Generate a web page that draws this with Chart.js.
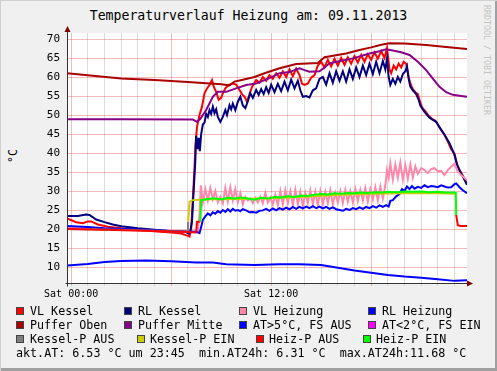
<!DOCTYPE html>
<html>
<head>
<meta charset="utf-8">
<script src="https://cdn.jsdelivr.net/npm/chart.js@4.4.0/dist/chart.umd.min.js"></script>
<style>
  html, body { margin: 0; padding: 0; background: #f0f0f0; }
  #frame {
    position: relative; width: 497px; height: 371px; overflow: hidden;
    background: #f0f0f0;
    box-shadow: inset 1px 1px 0 #d0d0d0, inset -2px -3px 0 #a0a0a0;
    font-family: 'DejaVu Sans Mono', monospace; color: #000;
  }
  canvas { position: absolute; left: 0; top: 0; }
  #title { position: absolute; left: 0; top: 8px; width: 497px; text-align: center; font-size: 13.2px; line-height: 16px; }
  #unit { position: absolute; left: 13px; top: 156px; font-size: 11.5px; transform: translate(-50%, -50%) rotate(-90deg); }
  #mark { position: absolute; left: 482px; top: 5px; writing-mode: vertical-rl; font-size: 8.3px; color: #c4c4c4; }
  .t { position: absolute; font-size: 11.7px; line-height: 14px; white-space: pre; }
  .b { position: absolute; width: 8px; height: 8px; box-sizing: border-box; border: 1px solid #444; }
</style>
</head>
<body>
<div id="frame">
  <div id="title">Temperaturverlauf Heizung am: 09.11.2013</div>
  <div id="unit">°C</div>
  <div id="mark">RRDTOOL / TOBI OETIKER</div>
  <canvas id="chart" width="497" height="371"></canvas>

  <div class="b" style="left:16px;top:307px;background:#ff0000"></div><div class="t" style="left:30px;top:304px">VL Kessel</div>
  <div class="b" style="left:124px;top:307px;background:#000080"></div><div class="t" style="left:138px;top:304px">RL Kessel</div>
  <div class="b" style="left:239px;top:307px;background:#ff88aa"></div><div class="t" style="left:253px;top:304px">VL Heizung</div>
  <div class="b" style="left:368px;top:307px;background:#0000ff"></div><div class="t" style="left:382px;top:304px">RL Heizung</div>

  <div class="b" style="left:16px;top:321px;background:#aa0000"></div><div class="t" style="left:30px;top:318px">Puffer Oben</div>
  <div class="b" style="left:124px;top:321px;background:#880088"></div><div class="t" style="left:138px;top:318px">Puffer Mitte</div>
  <div class="b" style="left:239px;top:321px;background:#0000ff"></div><div class="t" style="left:253px;top:318px">AT&gt;5°C, FS AUS</div>
  <div class="b" style="left:368px;top:321px;background:#ff00ff"></div><div class="t" style="left:382px;top:318px">AT&lt;2°C, FS EIN</div>

  <div class="b" style="left:16px;top:335px;background:#808080"></div><div class="t" style="left:30px;top:332px">Kessel-P AUS</div>
  <div class="b" style="left:137px;top:335px;background:#cccc00"></div><div class="t" style="left:150px;top:332px">Kessel-P EIN</div>
  <div class="b" style="left:256px;top:335px;background:#ff0000"></div><div class="t" style="left:269px;top:332px">Heiz-P AUS</div>
  <div class="b" style="left:363px;top:335px;background:#00ff00"></div><div class="t" style="left:376px;top:332px">Heiz-P EIN</div>

  <div class="t" style="left:16px;top:346px">akt.AT: 6.53 °C um 23:45  min.AT24h: 6.31 °C  max.AT24h:11.68 °C</div>
</div>

<script>
// Zeitachse in Stunden ab Mitternacht (Sat 00:00), Werte in °C
const gridHours = [0,1,2,3,4,5,6,7,8,9,10,11,12,13,14,15,16,17,18,19,20,21,22,23];
const labelHours = [0, 12];
const xTickLabels = ['Sat 00:00', 'Sat 12:00'];
const yTicks = [10,15,20,25,30,35,40,45,50,55,60,65,70];

const vlKessel = [[-0.25,22.8],[0.3,21.8],[0.7,21.5],[1.0,22.0],[1.2,22.0],[1.6,21.2],[2.2,20.6],[3.0,20.2],[4.0,19.8],[5.0,19.4],[6.0,19.1],[6.6,18.8],[7.0,18.2],[7.1,18.0],[7.2,20.0],[7.3,28.0],[7.4,36.0],[7.45,41.7],[7.55,46.9],[7.7,50.0],[7.85,52.2],[8.0,55.7],[8.15,57.0],[8.3,57.9],[8.45,59.2],[8.55,57.5],[8.7,56.1],[8.85,54.0],[9.0,54.5],[9.1,55.7],[9.25,57.0],[9.45,57.9],[9.7,58.3],[9.9,58.0],[10.05,57.0],[10.25,55.5],[10.4,54.8],[10.55,53.5],[10.7,55.5],[10.85,57.4],[11.1,59.2],[11.3,58.5],[11.5,60.0],[11.7,59.0],[11.9,60.5],[12.1,59.5],[12.3,61.0],[12.5,59.8],[12.7,61.5],[12.9,60.0],[13.1,62.0],[13.3,60.2],[13.5,62.2],[13.7,60.5],[13.85,58.2],[14.0,57.9],[14.2,58.3],[14.4,59.8],[14.6,60.5],[14.8,63.0],[15.0,64.0],[15.2,62.5],[15.4,64.5],[15.6,62.8],[15.8,64.8],[16.0,63.0],[16.2,65.0],[16.4,63.2],[16.6,65.2],[16.8,63.5],[17.0,65.5],[17.2,63.8],[17.4,65.8],[17.6,64.0],[17.8,66.0],[18.0,64.5],[18.2,66.5],[18.4,64.8],[18.6,66.8],[18.8,65.0],[18.95,67.6],[19.1,62.0],[19.2,61.0],[19.35,63.0],[19.5,62.0],[19.65,63.5],[19.8,62.5],[19.95,64.0],[20.1,63.5],[20.25,60.0],[20.35,58.3],[20.5,56.8],[20.65,56.0],[20.8,55.5],[20.9,54.0],[21.05,52.0],[21.25,51.0],[21.45,49.8],[21.65,49.0],[21.85,48.5],[22.0,47.5],[22.2,46.0],[22.4,44.8],[22.6,43.0],[22.8,41.0],[23.0,39.8],[23.15,37.0],[23.3,35.5],[23.5,34.0],[23.75,32.0]];

const rlKessel = [[-0.25,23.4],[0.4,23.4],[0.9,23.8],[1.1,23.7],[1.5,22.5],[2.0,21.8],[2.5,21.2],[3.0,20.7],[4.0,20.2],[5.0,19.8],[6.0,19.4],[6.9,19.2],[7.05,18.8],[7.15,19.5],[7.25,22.0],[7.35,30.0],[7.45,38.0],[7.5,44.5],[7.6,41.0],[7.65,44.0],[7.72,40.5],[7.8,45.0],[7.9,47.5],[8.0,48.0],[8.1,50.3],[8.2,49.5],[8.3,51.3],[8.4,50.3],[8.5,52.2],[8.6,50.5],[8.7,51.5],[8.8,49.5],[8.95,48.2],[9.1,49.5],[9.25,51.3],[9.35,50.0],[9.5,52.6],[9.6,51.5],[9.7,53.0],[9.85,51.3],[10.0,53.5],[10.15,54.8],[10.3,52.5],[10.45,51.8],[10.55,53.0],[10.75,55.7],[10.9,54.5],[11.1,56.6],[11.25,55.3],[11.4,56.8],[11.55,55.5],[11.7,57.3],[11.85,55.8],[12.0,58.0],[12.2,56.0],[12.4,58.2],[12.6,56.3],[12.8,58.8],[13.0,56.5],[13.2,59.3],[13.4,57.0],[13.6,59.0],[13.75,56.5],[13.9,54.8],[14.1,55.0],[14.3,54.6],[14.5,56.5],[14.7,57.0],[14.9,59.5],[15.1,60.0],[15.3,58.0],[15.5,61.0],[15.7,58.5],[15.9,61.5],[16.1,59.0],[16.3,61.5],[16.5,58.8],[16.7,62.0],[16.9,59.5],[17.1,62.5],[17.3,60.0],[17.5,63.0],[17.7,60.5],[17.9,63.5],[18.1,60.8],[18.3,64.0],[18.5,61.0],[18.7,64.2],[18.85,62.0],[18.95,64.9],[19.05,60.0],[19.15,57.9],[19.3,59.5],[19.45,58.2],[19.6,60.0],[19.75,58.8],[19.9,60.8],[20.05,61.5],[20.15,62.8],[20.25,59.5],[20.35,57.5],[20.5,56.5],[20.7,55.5],[20.85,54.0],[20.95,52.5],[21.2,50.8],[21.5,49.3],[21.7,48.7],[21.9,48.2],[22.1,46.8],[22.4,44.8],[22.7,42.6],[23.0,39.5],[23.15,37.0],[23.3,35.5],[23.5,33.8],[23.75,31.6]];

const vlHeizung = [[-0.25,20.3],[3.0,19.9],[7.0,19.3],[7.6,19.2],[7.7,24.0],[7.78,31.5],[7.9,27.0],[8.05,30.5],[8.2,27.5],[8.35,30.8],[8.5,27.8],[8.65,30.0],[8.8,27.0],[8.95,28.5],[9.1,26.8],[9.25,30.8],[9.4,27.2],[9.55,31.0],[9.7,27.5],[9.85,30.5],[10.0,27.0],[10.15,29.5],[10.3,26.5],[10.45,28.5],[10.6,27.5],[10.75,28.0],[10.9,26.8],[11.05,28.2],[11.2,27.0],[11.35,28.5],[11.5,26.8],[11.65,29.5],[11.8,27.0],[11.95,28.3],[12.1,26.5],[12.25,29.0],[12.4,26.3],[12.55,30.0],[12.7,26.5],[12.85,30.2],[13.0,26.8],[13.15,30.0],[13.3,26.2],[13.45,30.3],[13.6,26.5],[13.75,29.8],[13.9,26.0],[14.05,29.5],[14.2,26.8],[14.35,30.2],[14.5,26.5],[14.65,29.8],[14.8,26.3],[14.95,30.0],[15.1,26.5],[15.25,29.8],[15.4,26.8],[15.55,30.2],[15.7,26.5],[15.85,29.5],[16.0,27.0],[16.15,30.0],[16.3,26.8],[16.45,30.3],[16.6,27.2],[16.75,30.0],[16.9,27.0],[17.05,30.5],[17.2,27.3],[17.35,30.3],[17.5,27.5],[17.65,30.8],[17.8,27.2],[17.95,30.5],[18.1,27.8],[18.25,31.0],[18.4,27.5],[18.55,31.2],[18.7,28.0],[18.85,31.5],[18.95,35.5],[19.05,33.5],[19.15,37.3],[19.3,33.0],[19.45,37.0],[19.6,33.5],[19.75,37.5],[19.9,33.0],[20.05,36.8],[20.2,33.2],[20.35,37.0],[20.5,33.5],[20.65,36.5],[20.8,34.5],[21.0,36.0],[21.2,35.5],[21.4,34.7],[21.6,35.8],[21.8,36.0],[22.0,35.2],[22.2,35.3],[22.4,34.2],[22.6,35.5],[22.8,36.4],[23.0,37.2],[23.2,35.0],[23.45,34.0],[23.75,32.8]];

const rlHeizung = [[-0.25,20.8],[1.0,20.5],[2.0,20.2],[4.0,19.9],[6.0,19.5],[7.5,19.3],[7.7,18.9],[7.8,20.5],[7.9,22.4],[8.05,23.3],[8.2,24.1],[8.35,23.6],[8.5,24.4],[8.65,24.0],[8.8,24.7],[8.95,24.3],[9.1,25.0],[9.25,24.5],[9.4,25.2],[9.55,24.6],[9.7,25.3],[9.85,24.8],[10.0,25.0],[10.15,24.7],[10.3,25.2],[10.5,24.9],[10.7,24.4],[10.9,24.5],[11.1,24.3],[11.3,24.8],[11.5,24.9],[11.7,25.3],[11.9,24.8],[12.1,25.4],[12.3,24.9],[12.5,25.5],[12.7,25.1],[12.9,25.6],[13.1,25.2],[13.3,25.8],[13.5,25.3],[13.7,25.8],[13.9,25.4],[14.1,25.9],[14.3,25.5],[14.5,26.0],[14.7,25.5],[14.9,25.9],[15.1,25.4],[15.3,25.8],[15.5,25.3],[15.7,25.7],[15.9,25.2],[16.1,25.0],[16.3,24.8],[16.5,25.3],[16.7,25.0],[16.9,25.5],[17.1,25.2],[17.3,25.7],[17.5,25.3],[17.7,25.8],[17.9,25.5],[18.1,26.0],[18.3,25.6],[18.5,26.2],[18.7,25.8],[18.9,26.3],[19.05,25.9],[19.15,27.4],[19.3,27.6],[19.5,28.6],[19.7,29.2],[19.85,30.5],[20.0,30.0],[20.15,31.2],[20.3,30.5],[20.45,31.3],[20.6,30.6],[20.8,31.1],[21.0,30.8],[21.2,31.5],[21.4,31.0],[21.6,31.3],[21.8,31.2],[22.0,31.0],[22.2,31.5],[22.4,31.2],[22.6,30.9],[22.8,31.0],[23.0,31.8],[23.1,32.0],[23.3,31.0],[23.5,30.2],[23.75,29.4]];

const pufferOben = [[-0.25,61.0],[3.0,59.6],[5.0,59.2],[7.0,58.7],[9.0,58.1],[9.5,57.8],[9.8,58.8],[10.3,59.3],[11.0,60.0],[11.6,61.0],[12.5,62.3],[13.5,63.4],[14.8,63.7],[15.2,65.2],[16.5,66.2],[17.3,67.1],[18.0,67.8],[18.6,68.5],[19.1,68.9],[20.0,68.8],[21.3,68.4],[22.5,67.9],[23.75,67.4]];

const pufferMitte = [[-0.25,48.9],[3.0,48.9],[7.3,48.8],[7.55,48.2],[7.75,49.0],[8.1,51.3],[8.5,54.8],[8.8,56.1],[9.3,56.1],[9.9,57.0],[10.5,57.9],[11.1,58.3],[11.9,59.7],[12.5,61.0],[13.1,61.3],[13.7,62.3],[14.0,61.8],[14.3,61.4],[14.9,61.5],[15.2,62.5],[15.5,63.6],[16.2,64.3],[16.9,64.9],[17.9,66.2],[18.5,66.8],[18.9,67.3],[19.3,67.0],[19.8,66.5],[20.3,65.8],[20.8,64.0],[21.3,61.8],[21.7,59.6],[22.1,57.4],[22.5,56.0],[22.9,55.3],[23.4,55.0],[23.75,54.8]];

const atWarm = [[-0.25,10.4],[1.0,10.8],[2.0,11.3],[3.0,11.6],[4.5,11.7],[6.0,11.5],[7.5,11.2],[8.5,11.2],[9.3,10.7],[11.0,10.5],[12.5,10.7],[13.7,10.7],[15.0,10.5],[16.0,9.8],[17.0,9.1],[18.0,8.5],[19.0,7.9],[20.0,7.5],[21.0,7.2],[22.0,6.8],[23.0,6.35],[23.75,6.53]];
const atCold = [];

const kesselAus = [[-0.25,20.0],[3.0,19.8],[6.9,19.3],[7.0,19.3],[7.02,21.9]];
const kesselEin = [[7.02,21.9],[7.1,27.2],[7.3,27.6],[7.75,27.7],[8.5,27.8],[10.0,27.9],[12.0,28.1],[14.0,28.5],[16.0,29.0],[18.0,29.3],[20.0,29.4],[22.0,29.4],[23.05,29.3]];
const heizAus = [[-0.25,20.0],[2.0,19.8],[5.0,19.5],[7.0,19.2],[7.5,19.1],[7.55,21.9],[7.75,21.9],[7.8,null],[23.1,23.7],[23.2,21.0],[23.35,20.8],[23.75,20.8]];
const heizEin = [[7.75,21.9],[7.8,27.6],[8.2,27.9],[8.6,28.1],[9.0,27.8],[9.4,28.2],[9.8,28.0],[10.2,28.3],[10.6,28.0],[11.0,27.7],[11.4,28.2],[11.8,28.0],[12.2,28.4],[12.6,28.3],[13.0,28.6],[13.4,28.4],[13.8,28.8],[14.2,28.7],[14.6,29.0],[15.0,29.2],[15.4,29.1],[15.8,29.4],[16.2,29.3],[16.6,29.5],[17.0,29.4],[17.4,29.6],[17.8,29.5],[18.2,29.7],[18.6,29.6],[19.0,29.8],[19.5,29.7],[20.0,29.9],[20.5,29.8],[21.0,29.9],[21.5,29.7],[22.0,29.8],[22.5,29.6],[23.0,29.6],[23.08,29.5],[23.1,23.7]];

const series = [
  ['VL Kessel', vlKessel, '#ff0000'],
  ['RL Kessel', rlKessel, '#000080'],
  ['VL Heizung', vlHeizung, '#ff88aa'],
  ['RL Heizung', rlHeizung, '#0000ff'],
  ['Puffer Oben', pufferOben, '#aa0000'],
  ['Puffer Mitte', pufferMitte, '#880088'],
  ['AT>5°C, FS AUS', atWarm, '#0000ff'],
  ['AT<2°C, FS EIN', atCold, '#ff00ff'],
  ['Kessel-P AUS', kesselAus, '#808080'],
  ['Kessel-P EIN', kesselEin, '#cccc00'],
  ['Heiz-P AUS', heizAus, '#ff0000'],
  ['Heiz-P EIN', heizEin, '#00ff00']
];

const majorGrid = 'rgba(222, 60, 60, 0.35)';
const minorGrid = 'rgba(140, 140, 140, 0.3)';
const axisColor = '#333333';
const arrowColor = '#7f0000';

// weisser Plotbereich + Achsen mit Pfeilen wie bei rrdtool
const rrdFrame = {
  id: 'rrdFrame',
  beforeDraw(chart) {
    const a = chart.chartArea, c = chart.ctx;
    c.save();
    c.fillStyle = '#ffffff';
    c.fillRect(a.left, a.top, a.right - a.left, a.bottom - a.top);
    c.restore();
  },
  afterDraw(chart) {
    const a = chart.chartArea, c = chart.ctx;
    const x0 = Math.round(a.left) + 0.5, y0 = Math.round(a.bottom) + 0.5;
    c.save();
    c.strokeStyle = axisColor;
    c.lineWidth = 1;
    c.beginPath();
    c.moveTo(x0, y0 + 3); c.lineTo(x0, a.top - 2);
    c.moveTo(x0 - 2, y0); c.lineTo(a.right + 1, y0);
    c.stroke();
    c.fillStyle = arrowColor;
    c.beginPath();
    c.moveTo(x0, a.top - 7); c.lineTo(x0 - 3, a.top - 1); c.lineTo(x0 + 3, a.top - 1);
    c.closePath(); c.fill();
    c.beginPath();
    c.moveTo(a.right + 6, y0); c.lineTo(a.right, y0 - 3); c.lineTo(a.right, y0 + 3);
    c.closePath(); c.fill();
    c.restore();
  }
};

new Chart(document.getElementById('chart'), {
  type: 'line',
  data: {
    datasets: series.map((s, i) => ({
      label: s[0],
      data: s[1].map(p => ({ x: p[0], y: p[1] })),
      borderColor: s[2],
      backgroundColor: s[2],
      borderWidth: 2,
      pointRadius: 0,
      tension: 0,
      fill: false,
      order: series.length - i
    }))
  },
  options: {
    responsive: false,
    animation: false,
    devicePixelRatio: 1,
    layout: { padding: { left: 7, right: 30, top: 33, bottom: 68 } },
    plugins: { legend: { display: false }, tooltip: { enabled: false } },
    scales: {
      x: {
        type: 'linear',
        min: -0.25,
        max: 23.75,
        afterBuildTicks: s => { s.ticks = gridHours.map(v => ({ value: v })); },
        afterFit: s => { s.height = 20; },
        border: { display: false },
        grid: {
          color: c => (c.tick && c.tick.value % 6 === 0) ? majorGrid : minorGrid,
          tickLength: 3
        },
        ticks: {
          autoSkip: false, maxRotation: 0, minRotation: 0, padding: 2,
          color: '#000',
          font: { family: 'DejaVu Sans Mono', size: 10 },
          callback: v => {
            const i = labelHours.indexOf(v);
            return i >= 0 ? xTickLabels[i] : '';
          }
        }
      },
      y: {
        min: 5.79,
        max: 71.58,
        afterBuildTicks: s => { s.ticks = yTicks.map(v => ({ value: v })); },
        afterFit: s => { s.width = 60; },
        border: { display: false },
        grid: { color: majorGrid, drawTicks: false },
        ticks: {
          padding: 7,
          color: '#000',
          font: { family: 'DejaVu Sans Mono', size: 11 }
        }
      }
    }
  },
  plugins: [rrdFrame]
});
</script>
</body>
</html>
